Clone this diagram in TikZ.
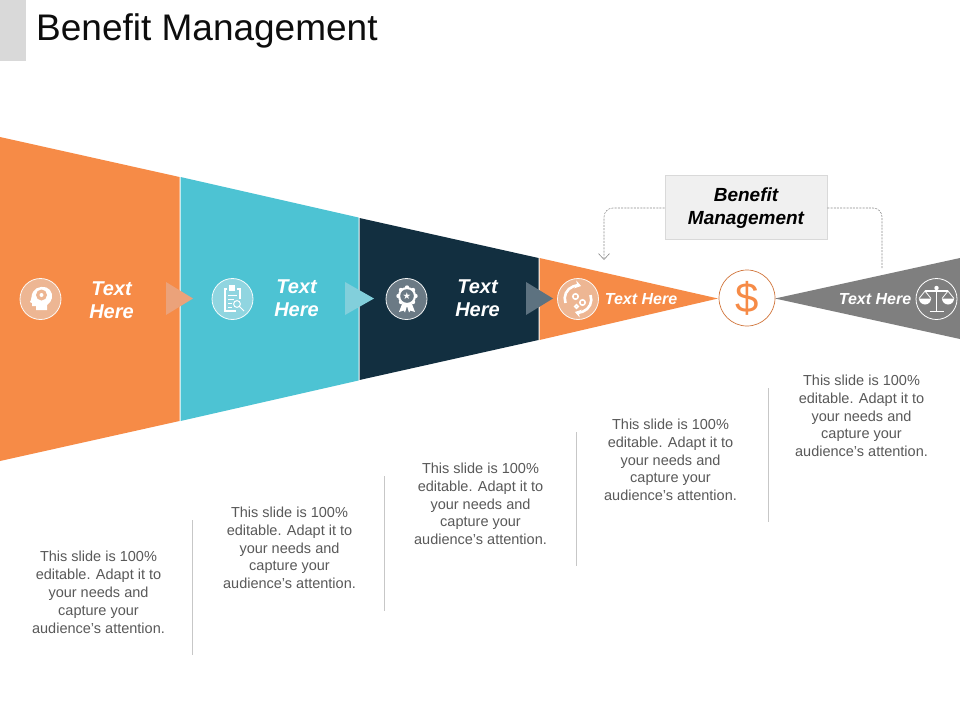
\documentclass[tikz,border=0pt]{standalone}
\usepackage{fontspec}
\setmainfont{Liberation Sans}
\newfontfamily\symfont{DejaVu Sans}
\usetikzlibrary{arrows.meta}
\definecolor{orng}{HTML}{F68B47}
\definecolor{teal2}{HTML}{4DC3D3}
\definecolor{navy}{HTML}{122F40}
\definecolor{grey2}{HTML}{7F7F7F}
\definecolor{txt}{HTML}{595959}
\definecolor{c1}{HTML}{EBA27A}
\definecolor{c2}{HTML}{82CFDB}
\definecolor{c3}{HTML}{5D7280}
\definecolor{r1}{HTML}{EDB693}
\definecolor{r2}{HTML}{90D5E0}
\definecolor{r3}{HTML}{6B7A85}
\definecolor{boxfill}{HTML}{F0F0F0}
\tikzset{
  seg/.style={fill=#1,draw=none},
  chev/.style={fill=#1,draw=none},
  iconring/.style={circle,draw=white!90!#1,line width=.8pt,fill=#1,minimum size=41pt,inner sep=0pt},
  bigl/.style={text=white,font=\fontsize{20}{23}\selectfont\bfseries\itshape,align=center,inner sep=0pt},
  smalll/.style={text=white,font=\fontsize{16}{18}\selectfont\bfseries\itshape,inner sep=0pt},
  body/.style={text=txt,font=\fontsize{14.5}{17.9}\selectfont,align=center,inner sep=0pt,anchor=north},
  sep/.style={draw=black!22,line width=.6pt},
  conn/.style={draw=black!45,dashed,dash pattern=on 2pt off 1.2pt,line width=.6pt,rounded corners=9pt},
  ic/.style={draw=white,line width=1.1pt,fill=none},
  icf/.style={fill=white,draw=none}
}
\begin{document}
\begin{tikzpicture}[x=1pt,y=-1pt]
\useasboundingbox (0,0) rectangle (960,720);
\fill[white] (0,0) rectangle (960,720);
\fill[black!15] (0,0) rectangle (26,61);
\node[anchor=west,inner sep=0pt,font=\fontsize{37}{40}\selectfont,text=black!95] (title) at (36,31) {Benefit Management};
% funnel
\fill[seg=orng] (0,137) -- (179.5,177) -- (179.5,421) -- (0,461) -- cycle;
\fill[seg=teal2] (180.5,177) -- (358.5,217.5) -- (358.5,380.5) -- (180.5,421) -- cycle;
\fill[seg=navy] (359.5,218) -- (538.5,258) -- (538.5,340) -- (359.5,380) -- cycle;
\fill[seg=orng] (539.5,258) -- (718,298.5) -- (539.5,340) -- cycle;
\fill[seg=grey2] (775,298.5) -- (960,258) -- (960,339) -- cycle;
% chevrons
\fill[chev=c1] (166,282) -- (193,298.5) -- (166,315) -- cycle;
\fill[chev=c2] (345,282) -- (374,298.5) -- (345,315) -- cycle;
\fill[chev=c3] (526,282) -- (553,298.5) -- (526,315) -- cycle;
% rings
\node[iconring=r1] (i1) at (40.5,299) {};
\node[iconring=r2] (i2) at (232.5,299) {};
\node[iconring=r3] (i3) at (406.5,299) {};
\node[iconring=r1] (i4) at (578,299) {};
\node[circle,draw=orng!85!black,line width=.7pt,fill=white,minimum size=56pt,inner sep=0pt,text=orng,font=\fontsize{42}{44}\selectfont] (dollar) at (747,298) {\$};
\node[circle,draw=white,line width=.8pt,minimum size=41pt,inner sep=0pt] (i6) at (936.5,299) {};
% brain icon
\fill[icf] (30,302) .. controls (32,299) and (31,295) .. (33,292) .. controls (36,286) and (46,285) .. (50,290) .. controls (54,295) and (52,302) .. (47,305) -- (47,310) -- (36,310) -- (36,306) -- (32,306) -- (32,303) -- cycle;
\fill[r1] (41.5,295) circle (5.5pt);
\fill[white] (41.5,295) circle (2pt);
% clipboard icon
\draw[ic] (227,289) -- (225,289) -- (225,311) -- (236,311);
\draw[ic] (237,289) -- (240,289) -- (240,299);
\fill[icf] (229,285) rectangle (235,291);
\draw[white,line width=.9pt] (228,295) -- (237,295) (228,299) -- (234,299) (228,303) -- (232,303) (228,307) -- (232,307);
\draw[white,line width=1pt] (237,304) circle (3.4pt) (239.5,306.5) -- (244,311);
% award icon
\foreach \a in {0,45,...,315}{\fill[icf] (407,296) ++(\a:8.5pt) circle (2.2pt);}
\fill[icf] (407,296) circle (9pt);
\fill[icf] (402,304) -- (399,312) -- (403.5,310.5) -- (405,312.5) -- (407,306) -- (409,312.5) -- (410.5,310.5) -- (415,312) -- (412,304) -- cycle;
\fill[r3] (407,296) circle (6.8pt);
\node[inner sep=0pt,text=white,font=\symfont\fontsize{9.5}{10}\selectfont] (star) at (407,296) {★};
% cycle-gears icon
\draw[white,line width=2.6pt,-{Stealth[length=6pt,width=8pt]}] (565.5,303) arc[start angle=200,end angle=75,radius=13pt];
\draw[white,line width=2.6pt,-{Stealth[length=6pt,width=8pt]}] (590.5,295) arc[start angle=20,end angle=-105,radius=13pt];
\draw[white,line width=1.6pt] (575.5,296.5) circle (2.7pt) (582.5,302.5) circle (2.7pt) (576.5,306.5) circle (1.8pt);
% scales icon
\draw[white,line width=1.8pt] (936.5,288) -- (936.5,311) (929.5,311.5) -- (943.5,311.5) (925,291) -- (948,291);
\fill[icf] (936.5,288) circle (2.2pt);
\fill[icf] (919,298.5) arc[start angle=180,end angle=360,radius=6pt] -- cycle;
\fill[icf] (942,298.5) arc[start angle=180,end angle=360,radius=6pt] -- cycle;
\draw[white,line width=.8pt] (919,298.5) -- (925,291) -- (931,298.5) (942,298.5) -- (948,291) -- (954,298.5);
% labels
\node[bigl] (l1) at (111.5,300.5) {Text\\Here};
\node[bigl] (l2) at (296.5,298.5) {Text\\Here};
\node[bigl] (l3) at (477.5,298.5) {Text\\Here};
\node[smalll] (l4) at (641,299.5) {Text Here};
\node[smalll] (l5) at (875,299.5) {Text Here};
% callout
\node[draw=black!15,line width=.7pt,fill=boxfill,minimum width=162pt,minimum height=64pt,inner sep=0pt] (box) at (746,207) {};
\node[inner sep=0pt,align=center,font=\fontsize{19}{23}\selectfont\bfseries\itshape,text=black] (boxlabel) at (746,208.5) {Benefit\\Management};
\coordinate (aL) at (604,260);
\coordinate (aR) at (882,268);
\draw[conn,-{Straight Barb[length=6pt,width=11pt,line width=.6pt]}] (box.west |- 0,208) -- (604,208) -- (aL);
\draw[conn] (box.east |- 0,208) -- (882,208) -- (aR);
% body text
\newcommand{\bodytxt}{This slide is 100\%\\editable. Adapt it to\\your needs and\\capture your\\audience\symbol{39}s attention.}
\node[body] (t1) at (98.5,551) {\bodytxt};
\node[body] (t2) at (289.5,506.5) {\bodytxt};
\node[body] (t3) at (480.5,462.5) {\bodytxt};
\node[body] (t4) at (670.5,418.5) {\bodytxt};
\node[body] (t5) at (861.5,374.5) {\bodytxt};
\draw[sep] (192.5,520) -- (192.5,655);
\draw[sep] (384.5,476) -- (384.5,611);
\draw[sep] (576.5,432) -- (576.5,566);
\draw[sep] (768.5,388) -- (768.5,522);
\end{tikzpicture}
\end{document}
